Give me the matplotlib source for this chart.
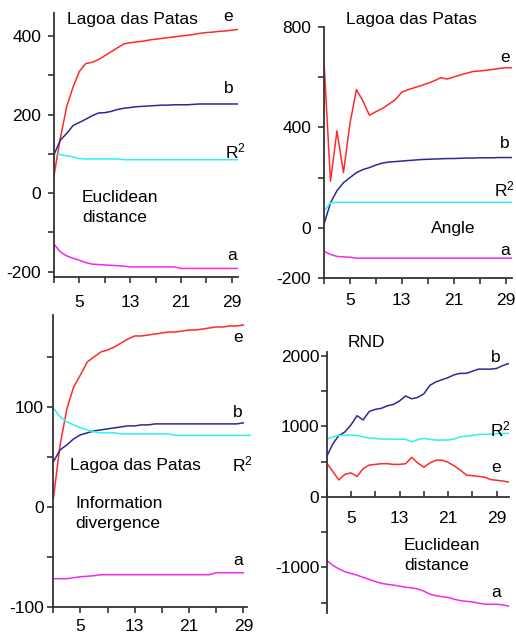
import numpy as np
from matplotlib import pyplot as plt

plt.rcParams['font.family'] = ['Liberation Sans', 'DejaVu Sans']
plt.rcParams['mathtext.fontset'] = 'custom'
plt.rcParams['mathtext.rm'] = 'Liberation Sans'
plt.rcParams['mathtext.it'] = 'Liberation Sans'
plt.rcParams['axes.unicode_minus'] = False

# ---- data ----
x30 = list(range(1, 31))
x29 = list(range(1, 30))
x31 = list(range(1, 32))

# Euclidean distance (top left)
ed_e = [45, 140, 220, 270, 310, 330, 333, 340, 350, 360, 370, 380, 383, 385, 387,
        390, 392, 394, 396, 398, 400, 402, 404, 407, 409, 410, 412, 413, 415, 417]
ed_b = [98, 135, 152, 172, 180, 188, 197, 204, 205, 208, 213, 216, 218, 220, 221,
        222, 223, 224, 224, 225, 225, 225, 226, 227, 227, 227, 227, 227, 227, 227]
ed_r2 = [100, 98, 95, 92, 88, 87, 87, 87, 87, 87, 87, 85, 85, 85, 85,
         85, 85, 85, 85, 85, 85, 85, 85, 85, 85, 85, 85, 85, 85, 85]
ed_a = [-130, -150, -160, -166, -171, -177, -181, -182, -183, -184, -185, -186, -188, -188, -188,
        -188, -188, -188, -188, -188, -192, -192, -192, -192, -192, -192, -192, -192, -192, -192]

# Angle (top right)
an_e = [660, 186, 386, 220, 415, 550, 505, 448, 462, 475, 492, 510, 540, 550, 558,
        566, 575, 585, 597, 592, 600, 608, 615, 622, 624, 627, 630, 634, 637, 637]
an_b = [15, 100, 148, 180, 200, 220, 232, 240, 250, 258, 262, 264, 266, 268, 270,
        272, 273, 274, 275, 276, 276, 277, 278, 278, 279, 279, 279, 280, 280, 280]
an_r2 = [68, 100] + [102] * 28
an_a = [-93, -105, -113, -115, -116] + [-120] * 25

# Information divergence (bottom left)
id_e = [8, 62, 98, 120, 132, 145, 150, 155, 157, 160, 164, 168, 171, 171, 172,
        173, 174, 175, 175, 176, 177, 177, 178, 179, 180, 180, 181, 181, 182]
id_b = [45, 57, 62, 68, 72, 74, 76, 77, 78, 79, 80, 81, 81, 82, 82,
        83, 83, 83, 83, 83, 83, 83, 83, 83, 83, 83, 83, 83, 84]
id_r2 = [99, 90, 85, 82, 79, 77, 75, 74, 74, 74, 73, 73, 73, 73, 73,
         73, 73, 73, 71.5, 71.5, 71.5, 71.5, 71.5, 71.5, 71.5, 71.5, 71.5, 71.5, 71.5, 71.5]
id_a = [-72, -72, -72, -71, -70, -69.5, -69, -68, -68, -68, -68, -68, -68, -68, -68,
        -68, -68, -68, -68, -68, -68, -68, -68, -68, -66, -66, -66, -66, -66]

# RND, Euclidean distance (bottom right)
rnd_b = [570, 750, 870, 920, 1020, 1150, 1090, 1210, 1240, 1255, 1290, 1310, 1360, 1430, 1390, 1410,
         1460, 1580, 1630, 1660, 1690, 1730, 1750, 1750, 1780, 1810, 1810, 1810, 1820, 1860, 1890]
rnd_r2 = [815, 850, 870, 875, 875, 870, 850, 835, 828, 820, 818, 818, 818, 815, 780, 810,
          830, 815, 805, 805, 805, 820, 850, 860, 870, 885, 885, 890, 895, 898, 900]
rnd_e = [480, 360, 240, 320, 340, 290, 400, 450, 460, 470, 470, 460, 460, 470, 560, 480,
         420, 480, 520, 520, 490, 440, 380, 310, 300, 290, 280, 245, 235, 225, 210]
rnd_a = [-900, -970, -1020, -1060, -1085, -1110, -1140, -1170, -1200, -1225, -1240, -1250, -1265,
         -1280, -1290, -1305, -1335, -1380, -1400, -1415, -1425, -1450, -1470, -1480, -1490,
         -1505, -1520, -1522, -1522, -1530, -1550]

xt_major = [5, 13, 21, 29]
xt_minor = [1, 9, 17, 25]

RED = '#ff2a2a'
BLUE = '#2a2a96'
CYAN = '#30f0f0'
MAGENTA = '#f02af0'
AX = '#333333'
FS = 12.5
LW = 1.1

W, H = 516, 637
fig = plt.figure(figsize=(W / 100, H / 100), dpi=100)


def make_ax(left, right, top, bottom, xlim, ylim, ymaj, ymin, ypad, xpad, xdir='out'):
    ax = fig.add_axes([left / W, 1 - bottom / H, (right - left) / W, (bottom - top) / H])
    ax.set_xlim(*xlim)
    ax.set_ylim(*ylim)
    for s in ['top', 'right']:
        ax.spines[s].set_visible(False)
    for s in ['left', 'bottom']:
        ax.spines[s].set_color(AX)
        ax.spines[s].set_linewidth(1.3)
    ax.set_xticks(xt_major)
    ax.set_xticks(xt_minor, minor=True)
    ax.set_yticks(ymaj)
    ax.set_yticks(ymin, minor=True)
    ax.tick_params(axis='y', which='both', direction='out', length=4.3, width=1.2,
                   color=AX, labelsize=FS, pad=ypad)
    ax.tick_params(axis='x', which='both', direction=xdir, length=4.3, width=1.2,
                   color=AX, labelsize=FS, pad=xpad)
    ax.patch.set_visible(False)
    return ax


def label(x, y, s):
    fig.text(x / W, 1 - y / H, s, fontsize=FS, va='baseline', ha='left')


# top left
ax1 = make_ax(54, 238, 13.3, 276.7, (1, 30), (-213, 458),
              [-200, 0, 200, 400], [-100, 100, 300], 4.8, 9.0)
ax1.plot(x30, ed_e, color=RED, lw=LW)
ax1.plot(x30, ed_b, color=BLUE, lw=LW)
ax1.plot(x30, ed_r2, color=CYAN, lw=LW)
ax1.plot(x30, ed_a, color=MAGENTA, lw=LW)
label(67, 24, 'Lagoa das Patas')
label(223, 21, 'e')
label(224, 93, 'b')
label(225, 158, 'R$^2$')
label(82, 201.7, 'Euclidean')
label(82, 221.7, 'distance')
label(227, 260, 'a')

# top right
ax2 = make_ax(324, 512, 26.7, 278.3, (1, 30), (-200, 800),
              [-200, 0, 400, 800], [200, 600], 4.8, 6.0)
ax2.plot(x30, an_e, color=RED, lw=LW)
ax2.plot(x30, an_b, color=BLUE, lw=LW)
ax2.plot(x30, an_r2, color=CYAN, lw=LW)
ax2.plot(x30, an_a, color=MAGENTA, lw=LW)
label(346.3, 24, 'Lagoa das Patas')
label(500.3, 61.7, 'e')
label(500, 148, 'b')
label(494, 196.7, 'R$^2$')
label(431.3, 233, 'Angle')
label(500.7, 255, 'a')

# bottom left
ax3 = make_ax(53.3, 247.4, 315, 606.7, (1, 29.6), (-100, 192),
              [-100, 0, 100], [-50, 50, 150], 2.4, 4.5)
ax3.plot(x29, id_e, color=RED, lw=LW)
ax3.plot(x29, id_b, color=BLUE, lw=LW)
ax3.plot(x30, id_r2, color=CYAN, lw=LW, clip_on=False)
ax3.plot(x29, id_a, color=MAGENTA, lw=LW)
label(233, 341.7, 'e')
label(233, 416.7, 'b')
label(231.7, 471.7, 'R$^2$')
label(70, 470, 'Lagoa das Patas')
label(75, 508.3, 'Information')
label(75, 528, 'divergence')
label(233, 565, 'a')

# bottom right
ax4 = make_ax(326.7, 508.8, 352.2, 613.3, (1, 31), (-1650, 2050),
              [-1000, 0, 1000, 2000], [-1500, -500, 500, 1500], 1.0, 10.5, xdir='in')
ax4.spines['bottom'].set_position(('data', 0))
ax4.plot(x31, rnd_b, color=BLUE, lw=LW)
ax4.plot(x31, rnd_r2, color=CYAN, lw=LW)
ax4.plot(x31, rnd_e, color=RED, lw=LW)
ax4.plot(x31, rnd_a, color=MAGENTA, lw=LW)
label(348, 346.7, 'RND')
label(491.3, 361.7, 'b')
label(489.7, 436.7, 'R$^2$')
label(491.3, 471.7, 'e')
label(404, 550, 'Euclidean')
label(404, 570, 'distance')
label(491.3, 596.7, 'a')

fig.savefig('out.png', dpi=100)
